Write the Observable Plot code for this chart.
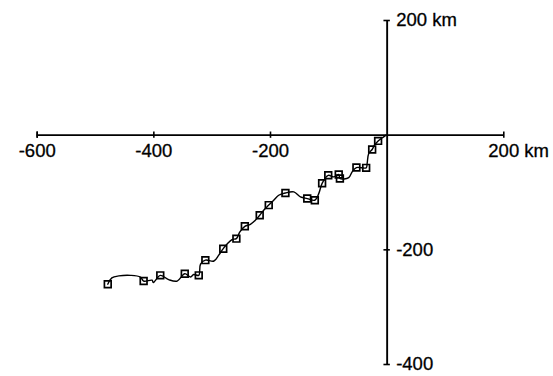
<!DOCTYPE html>
<html>
<head>
<meta charset="utf-8">
<script src="https://cdn.jsdelivr.net/npm/d3@7"></script>
<script src="https://cdn.jsdelivr.net/npm/@observablehq/plot@0.6"></script>
<style>
  html, body { margin: 0; padding: 0; background: #fff; }
</style>
</head>
<body>
<div id="chart"></div>
<script>
// Track (km east / km north of origin), in order of travel
const trackX = [-479, -472, -460, -440, -423, -417.5, -403, -401, -389, -374.6, -360, -347, -337, -331.7, -323, -320, -311.7, -297, -289, -281, -274.4, -266, -258.5, -252.8, -244, -234.5, -226, -218.5, -211.7, -203, -194.5, -186, -174.4, -160, -148.7, -137, -124, -117.3, -111.5, -101, -91.6, -83, -81, -65.9, -60, -52.7, -36, -34.3, -31.6, -25.7, -21.8, -15.5, -6, -2];
const trackY = [-260, -249, -245.5, -244.5, -247.5, -254.5, -253, -257, -244.5, -252, -254.5, -241.6, -247.5, -243, -244.5, -225, -218, -219.5, -209.6, -198, -190, -182, -180.5, -169, -159, -155.5, -148.5, -139.7, -131, -122, -113.5, -104.8, -100.8, -99, -107.7, -110.6, -113.5, -102, -84, -70, -72.8, -68.7, -75.6, -74, -64, -56.5, -57, -49.4, -32, -25, -17.5, -10, -3, 0];

// Square markers
const markX = [-479, -417.5, -389, -347, -323, -311.7, -281, -258.5, -244, -218.5, -203, -174.4, -137, -124, -111.5, -101, -83, -81, -52.7, -36, -25.7, -15.5];
const markY = [-260, -254.5, -244.5, -241.6, -244.5, -218, -198, -180.5, -159, -139.7, -122, -100.8, -110.6, -113.5, -84, -70, -68.7, -75.6, -56.5, -57, -25, -10];

// Axis ticks and labels
const xTicks = [-600, -400, -200, 200];
const xTickLabels = ["-600", "-400", "-200", "200 km"];
const yTicks = [200, -200, -400];
const yTickLabels = ["200 km", "-200", "-400"];

const track = trackX.map((x, i) => ({x, y: trackY[i]}));
const marks = markX.map((x, i) => ({x, y: markY[i]}));
const xt = xTicks.map((v, i) => ({v, label: xTickLabels[i]}));
const yt = yTicks.map((v, i) => ({v, label: yTickLabels[i]}));

const font = "'Liberation Sans', Arial, Helvetica, sans-serif";

const chart = Plot.plot({
  width: 553,
  height: 376,
  marginLeft: 36.7,
  marginRight: 49.7,
  marginTop: 20,
  marginBottom: 12,
  x: {domain: [-600, 200], axis: null},
  y: {domain: [-400, 200], axis: null},
  style: {background: "#fff", fontFamily: font},
  marks: [
    // axes through the origin
    Plot.ruleY([0], {x1: -600, x2: 200, stroke: "#000", strokeWidth: 1.9}),
    Plot.ruleX([0], {y1: -400, y2: 200, stroke: "#000", strokeWidth: 1.9}),
    // ticks
    Plot.ruleX(xt, {x: "v", y1: -5.5, y2: 5.5, stroke: "#000", strokeWidth: 1.6}),
    Plot.ruleX([-600], {y1: -5.5, y2: 5.5, stroke: "#000", strokeWidth: 1.6}),
    Plot.ruleY(yt, {y: "v", x1: -5.5, x2: 5.5, stroke: "#000", strokeWidth: 1.6}),
    // tick labels
    Plot.text(xt.filter(d => d.v !== 200), {x: "v", y: 0, text: "label", dy: 16, textAnchor: "middle", fontSize: 18.5, fill: "#000", stroke: "#000", strokeWidth: 0.3}),
    Plot.text(xt.filter(d => d.v === 200), {x: "v", y: 0, text: "label", dy: 16, dx: -15.5, textAnchor: "start", fontSize: 18.5, fill: "#000", stroke: "#000", strokeWidth: 0.3}),
    Plot.text(yt, {x: 0, y: "v", text: "label", dx: 9, dy: 0, textAnchor: "start", fontSize: 18.5, fill: "#000", stroke: "#000", strokeWidth: 0.3}),
    // track
    Plot.line(track, {x: "x", y: "y", curve: "catmull-rom", stroke: "#000", strokeWidth: 1.4}),
    Plot.dot(marks, {x: "x", y: "y", symbol: "square", r: 3.8, stroke: "#000", fill: "none", strokeWidth: 1.7})
  ]
});

document.getElementById("chart").appendChild(chart);
</script>
</body>
</html>
